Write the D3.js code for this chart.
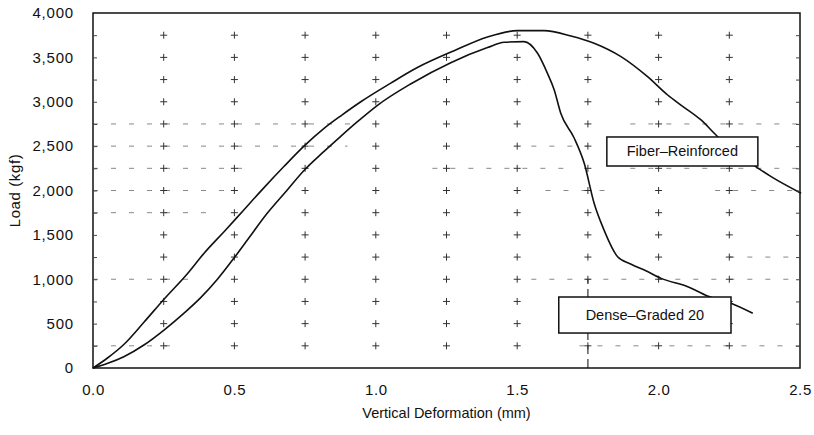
<!DOCTYPE html>
<html>
<head>
<meta charset="utf-8">
<script src="https://cdn.jsdelivr.net/npm/d3@7"></script>
<style>
  body { margin: 0; background: #fff; }
  text { font-family: "Liberation Sans", Arial, sans-serif; fill: #111; }
</style>
</head>
<body>
<div id="chart"></div>
<script>
// load vs deformation curves

var fiberX = [0, 0.05, 0.109, 0.180, 0.251, 0.333, 0.392, 0.469, 0.530, 0.604, 0.675, 0.746, 0.817, 0.880, 0.947, 1.053, 1.147, 1.277, 1.395, 1.501, 1.595, 1.690, 1.772, 1.867, 1.961, 2.032, 2.079, 2.150, 2.209, 2.327, 2.398, 2.504];
var fiberY = [0, 110, 265, 515, 775, 1060, 1290, 1555, 1770, 2030, 2270, 2500, 2700, 2850, 3000, 3210, 3385, 3575, 3730, 3801, 3801, 3741, 3659, 3508, 3282, 3076, 2963, 2795, 2606, 2306, 2156, 1969];

var denseX = [0, 0.05, 0.109, 0.180, 0.251, 0.321, 0.380, 0.440, 0.498, 0.551, 0.616, 0.687, 0.746, 0.817, 0.876, 0.935, 1.006, 1.123, 1.265, 1.395, 1.454, 1.524, 1.572, 1.607, 1.631, 1.654, 1.700, 1.737, 1.772, 1.807, 1.855, 1.903, 1.955, 2.009, 2.103, 2.173, 2.256, 2.333];
var denseY = [0, 50, 127, 259, 428, 616, 790, 1000, 1236, 1465, 1743, 2006, 2225, 2440, 2610, 2775, 2960, 3200, 3440, 3610, 3670, 3677, 3546, 3320, 3133, 2870, 2600, 2306, 1856, 1555, 1254, 1170, 1095, 1010, 916, 811, 729, 616];

var xTicks = [0, 0.5, 1.0, 1.5, 2.0, 2.5];
var yTicks = [0, 500, 1000, 1500, 2000, 2500, 3000, 3500, 4000];
var crossX = [0.25, 0.5, 0.75, 1.0, 1.25, 1.5, 1.75, 2.0, 2.25];
var crossY = [250, 500, 750, 1000, 1250, 1500, 1750, 2000, 2250, 2500, 2750, 3000, 3250, 3500, 3750];

// broken dashed guide lines seen in the scan: [load, from, to]
var hGuides = [[2750, 0, 0.95], [2750, 1.9, 2.5], [2500, 0, 0.9], [2500, 1.55, 1.75], [2250, 0, 0.55], [2250, 1.2, 1.7], [2250, 1.9, 2.5],
  [2000, 0, 0.5], [2000, 1.6, 1.85], [2000, 2.2, 2.5], [1750, 0, 0.4], [1250, 2.25, 2.5], [1000, 0, 0.35], [1000, 1.55, 2.5], [250, 0, 0.3], [250, 1.72, 2.5]];
var vGuides = [[1.75, 0, 1000]];

var labels = [
  {text: "Fiber\u2013Reinforced", x0: 1.817, x1: 2.351, y0: 2276, y1: 2603},
  {text: "Dense\u2013Graded 20", x0: 1.647, x1: 2.256, y0: 394, y1: 800}
];

var margin = {top: 13, right: 14, bottom: 67, left: 93},
    width = 814 - margin.left - margin.right,
    height = 435 - margin.top - margin.bottom;

var svg = d3.select("#chart")
  .append("svg")
    .attr("width", 814)
    .attr("height", 435)
  .append("g")
    .attr("transform", "translate(" + margin.left + "," + margin.top + ")");

var x = d3.scaleLinear().domain([0, 2.5]).range([0, width]);
var y = d3.scaleLinear().domain([0, 4000]).range([height, 0]);

// dashed guides
svg.append("g")
  .selectAll("line")
  .data(hGuides)
  .enter()
  .append("line")
    .attr("x1", function(d) { return x(d[1]) })
    .attr("x2", function(d) { return x(d[2]) })
    .attr("y1", function(d) { return y(d[0]) })
    .attr("y2", function(d) { return y(d[0]) })
    .attr("stroke", "#888")
    .attr("stroke-width", 1)
    .attr("stroke-dasharray", "5,13");
svg.append("g")
  .selectAll("line")
  .data(vGuides)
  .enter()
  .append("line")
    .attr("x1", function(d) { return x(d[0]) })
    .attr("x2", function(d) { return x(d[0]) })
    .attr("y1", function(d) { return y(d[1]) })
    .attr("y2", function(d) { return y(d[2]) })
    .attr("stroke", "#333")
    .attr("stroke-width", 1.2)
    .attr("stroke-dasharray", "9,5");

// plus markers
var crosses = [];
crossX.forEach(function(cx) { crossY.forEach(function(cy) { crosses.push([cx, cy]); }); });
var cg = svg.append("g").attr("stroke", "#333").attr("stroke-width", 1);
cg.selectAll("path")
  .data(crosses)
  .enter()
  .append("path")
    .attr("d", function(d) {
      var px = x(d[0]), py = y(d[1]);
      return "M" + (px - 3.5) + "," + py + "H" + (px + 3.5) + "M" + px + "," + (py - 3.5) + "V" + (py + 3.5);
    });

// curves
var line = d3.line()
  .x(function(d) { return x(d[0]) })
  .y(function(d) { return y(d[1]) })
  .curve(d3.curveMonotoneX);

svg.append("path")
  .datum(d3.zip(fiberX, fiberY))
  .attr("fill", "none")
  .attr("stroke", "#111")
  .attr("stroke-width", 1.6)
  .attr("d", line);

svg.append("path")
  .datum(d3.zip(denseX, denseY))
  .attr("fill", "none")
  .attr("stroke", "#111")
  .attr("stroke-width", 1.6)
  .attr("d", line);

// frame
svg.append("rect")
  .attr("width", width)
  .attr("height", height)
  .attr("fill", "none")
  .attr("stroke", "#111")
  .attr("stroke-width", 1.5);

// inward minor ticks on the sides
svg.append("g")
  .call(d3.axisLeft(y).tickValues(crossY).tickSize(-4).tickFormat(""))
  .call(function(g) { g.select(".domain").remove(); g.selectAll("line").attr("stroke", "#444"); });
svg.append("g")
  .attr("transform", "translate(" + width + ",0)")
  .call(d3.axisRight(y).tickValues(crossY).tickSize(-4).tickFormat(""))
  .call(function(g) { g.select(".domain").remove(); g.selectAll("line").attr("stroke", "#444"); });

// axes labels
svg.append("g")
  .attr("transform", "translate(0," + height + ")")
  .call(d3.axisBottom(x).tickValues(xTicks).tickSize(0).tickPadding(16).tickFormat(d3.format(".1f")))
  .call(function(g) {
    g.select(".domain").remove();
    g.selectAll("text").attr("font-size", 15).attr("letter-spacing", 0.6).attr("fill", "#111")
      .style("font-family", "'Liberation Sans', Arial, sans-serif");
  });

svg.append("g")
  .call(d3.axisLeft(y).tickValues(yTicks).tickSize(0).tickPadding(19).tickFormat(d3.format(",")))
  .call(function(g) {
    g.select(".domain").remove();
    g.selectAll("text").attr("font-size", 15).attr("letter-spacing", 0.8).attr("fill", "#111")
      .style("font-family", "'Liberation Sans', Arial, sans-serif");
  });

svg.append("text")
  .attr("x", width / 2)
  .attr("y", height + 50)
  .attr("text-anchor", "middle")
  .attr("font-size", 14.5)
  .text("Vertical Deformation (mm)");

svg.append("text")
  .attr("transform", "translate(" + (-73) + "," + (height / 2) + ") rotate(-90)")
  .attr("text-anchor", "middle")
  .attr("font-size", 15)
  .attr("letter-spacing", 0.6)
  .text("Load (kgf)");

// label boxes
var lg = svg.append("g")
  .selectAll("g")
  .data(labels)
  .enter()
  .append("g");
lg.append("rect")
  .attr("x", function(d) { return x(d.x0) })
  .attr("y", function(d) { return y(d.y1) })
  .attr("width", function(d) { return x(d.x1) - x(d.x0) })
  .attr("height", function(d) { return y(d.y0) - y(d.y1) })
  .attr("fill", "#fff")
  .attr("stroke", "#111")
  .attr("stroke-width", 1.5);
lg.append("text")
  .attr("x", function(d) { return (x(d.x0) + x(d.x1)) / 2 })
  .attr("y", function(d) { return (y(d.y0) + y(d.y1)) / 2 + 5 })
  .attr("text-anchor", "middle")
  .attr("font-size", 14.5)
  .text(function(d) { return d.text });
</script>
</body>
</html>
